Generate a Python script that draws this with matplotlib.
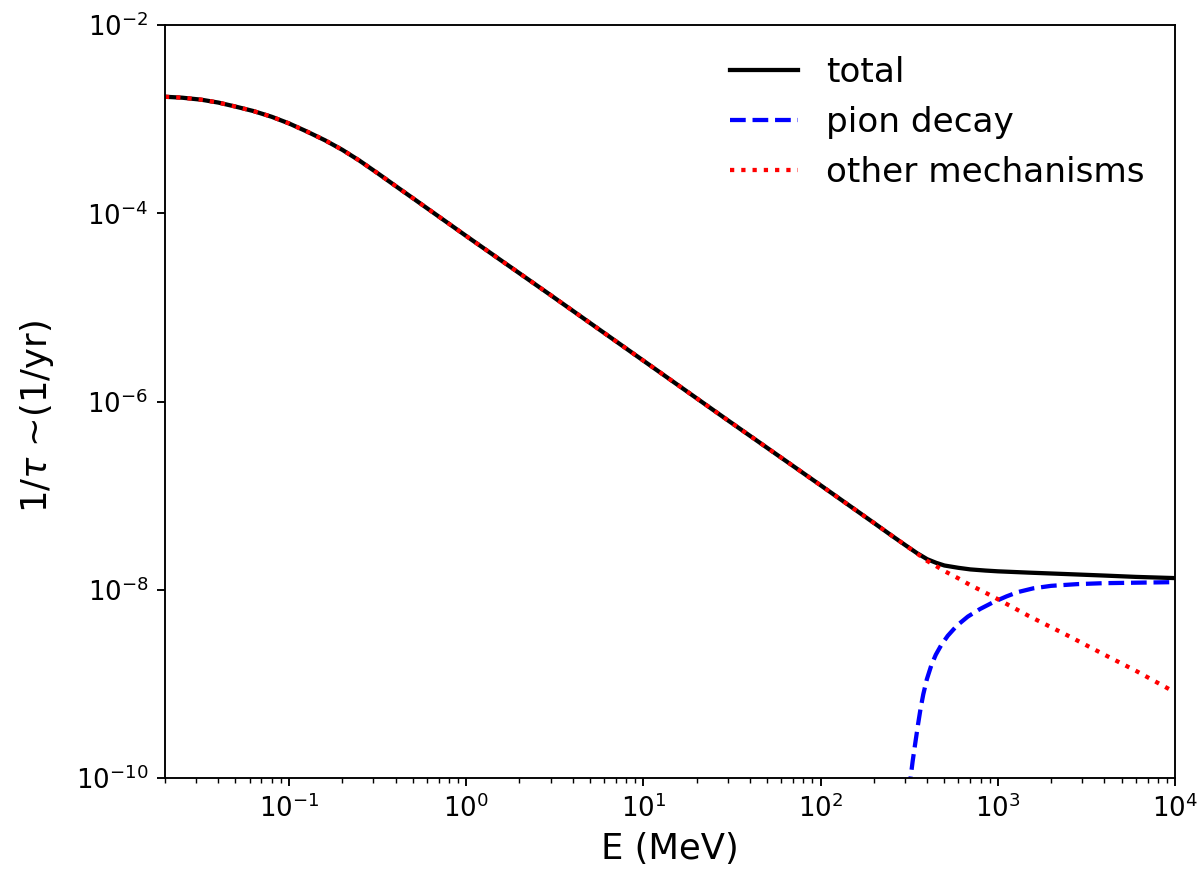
#!/usr/bin/env python3
"""
Energy-loss rate 1/tau vs. kinetic energy: total, pion decay, other mechanisms.
Log-log line chart, values read off the reference figure.
"""

import matplotlib

matplotlib.use("Agg")
import matplotlib.pyplot as plt
from matplotlib.ticker import LogLocator, NullLocator

# --- Data ------------------------------------------------------------------- #
# Shared energy grid (MeV) for the total and "other mechanisms" curves
energy = [0.02, 0.025, 0.032, 0.04, 0.05, 0.063, 0.08, 0.1, 0.126, 0.16,
          0.2, 0.25, 0.32, 0.4, 0.5, 1, 3, 10, 30, 100,
          200, 250, 300, 350, 400, 450, 500, 600, 700, 850,
          1000, 1500, 2500, 4000, 6000, 10000]

rate_total = [1.73e-3, 1.69e-3, 1.61e-3, 1.50e-3, 1.36e-3, 1.22e-3, 1.06e-3, 9.02e-4, 7.41e-4, 5.96e-4,
              4.73e-4, 3.63e-4, 2.63e-4, 1.95e-4, 1.45e-4, 5.75e-5, 1.35e-5, 2.72e-6, 6.31e-7, 1.29e-7,
              5.13e-8, 3.80e-8, 2.99e-8, 2.45e-8, 2.11e-8, 1.93e-8, 1.81e-8, 1.71e-8, 1.645e-8, 1.60e-8,
              1.57e-8, 1.52e-8, 1.465e-8, 1.415e-8, 1.37e-8, 1.33e-8]

rate_other = [1.73e-3, 1.69e-3, 1.61e-3, 1.50e-3, 1.36e-3, 1.22e-3, 1.06e-3, 9.02e-4, 7.41e-4, 5.96e-4,
              4.73e-4, 3.63e-4, 2.63e-4, 1.95e-4, 1.45e-4, 5.75e-5, 1.35e-5, 2.72e-6, 6.31e-7, 1.29e-7,
              5.13e-8, 3.80e-8, 2.99e-8, 2.43e-8, 2.02e-8, 1.78e-8, 1.58e-8, 1.32e-8, 1.12e-8, 9.33e-9,
              7.94e-9, 5.25e-9, 3.24e-9, 2.04e-9, 1.38e-9, 8.13e-10]

# Pion decay only switches on above the production threshold
energy_pion = [316, 322, 331, 343, 355, 367, 380, 398, 422, 447,
               479, 522, 589, 678, 794, 948, 1122, 1297, 1585, 1995,
               2818, 3981, 6310, 10000]
rate_pion = [7.08e-11, 1.0e-10, 1.51e-10, 2.40e-10, 3.72e-10, 5.50e-10, 7.76e-10, 1.12e-9, 1.58e-9, 2.04e-9,
             2.57e-9, 3.24e-9, 4.17e-9, 5.19e-9, 6.24e-9, 7.41e-9, 8.51e-9, 9.44e-9, 1.035e-8, 1.10e-8,
             1.148e-8, 1.175e-8, 1.19e-8, 1.205e-8]

# --- Figure ------------------------------------------------------------------ #
DPI = 170
fig = plt.figure(figsize=(1198 / DPI, 878 / DPI), dpi=DPI)
ax = fig.add_axes([0.1377, 0.1139, 0.8431, 0.8576])

ax.plot(energy, rate_total, color="k", linestyle="-", linewidth=1.8, label="total")
ax.plot(energy_pion, rate_pion, color="b", linestyle="--", linewidth=1.8, label="pion decay")
ax.plot(energy, rate_other, color="r", linestyle=":", linewidth=1.8, label="other mechanisms")

ax.set_xscale("log")
ax.set_yscale("log")
ax.set_xlim(0.02, 1e4)
ax.set_ylim(1e-10, 1e-2)

# labels every second decade on y, no minor ticks there
ax.yaxis.set_major_locator(LogLocator(base=10, numticks=5))
ax.yaxis.set_minor_locator(NullLocator())
ax.tick_params(labelsize=11)

ax.set_xlabel("E (MeV)", fontsize=15)
ax.set_ylabel(r"1/$\tau$ ~(1/yr)", fontsize=15)
ax.yaxis.set_label_coords(-0.108, 0.48)

ax.legend(frameon=False, fontsize=14.5, loc="upper right")

fig.savefig("out.png", dpi=DPI)
